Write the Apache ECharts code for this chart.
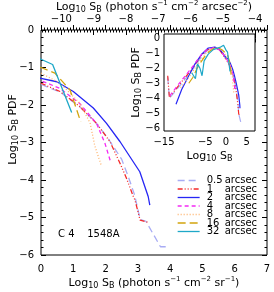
<!DOCTYPE html>
<html><head><meta charset="utf-8">
<script src="https://cdn.jsdelivr.net/npm/echarts@6/dist/echarts.min.js"></script>
<style>html,body{margin:0;padding:0;background:#fff}#c{width:274px;height:292px}</style>
</head><body><div id="c"></div>
<script>
// ---- data (log10 S_B, log10 PDF) ----
const names = ['0.5 arcsec','1 arcsec','2 arcsec','4 arcsec','8 arcsec','16 arcsec','32 arcsec'];
const s05 = [[-14.1,-2.6],[-13.7,-4.0],[-12,-3.45],[-10,-2.75],[-8,-2.05],[-6,-1.25],[-4.5,-0.8],[-3,-0.62],[-2,-0.65],[-1,-0.9],
  [0,-1.45],[0.6,-1.66],[1.2,-2.05],[1.7,-2.47],[2.1,-2.92],[2.5,-3.45],[2.7,-3.9],[2.9,-4.4],[3.07,-5.05],[3.25,-5.1],[3.7,-5.78],[3.9,-5.78]];
const s1 = [[-14.1,-2.5],[-13.7,-3.95],[-12,-3.35],[-10,-2.65],[-8,-1.95],[-6,-1.15],[-4.5,-0.75],[-2.8,-0.6],[-1.5,-0.8],[-0.7,-1.1],
  [0,-1.42],[0.59,-1.64],[1.2,-2.04],[1.72,-2.49],[2.14,-2.98],[2.45,-3.56],[2.65,-3.96],[2.86,-4.44],[2.91,-4.53],[3.07,-5.07],[3.32,-5.13]];
const s2 = [[-12.1,-4.41],[-10.7,-3.4],[-9.1,-2.55],[-7.5,-1.7],[-5.9,-1.06],[-4.3,-0.64],[-2.7,-0.57],[-1.3,-0.8],
  [0,-1.29],[0.49,-1.38],[1.0,-1.64],[1.62,-2.08],[2.03,-2.49],[2.45,-2.98],[3.06,-3.78],[3.32,-4.44],[3.37,-4.67]];
const s4 = [[-13.6,-3.85],[-12,-3.25],[-10,-2.55],[-8,-1.85],[-6,-1.1],[-4.5,-0.72],[-2.8,-0.6],[-1.5,-0.78],[-0.7,-1.05],
  [0,-1.35],[0.59,-1.56],[1.2,-1.96],[1.72,-2.49],[1.98,-3.02],[2.15,-3.5]];
const s8 = [[-11,-3.3],[-9,-2.6],[-7,-1.8],[-5,-1.05],[-3.5,-0.7],[-2,-0.6],[-1,-0.8],
  [0,-1.15],[0.59,-1.42],[1.2,-1.95],[1.52,-2.48],[1.67,-3.1],[1.87,-3.62]];
const s16 = [[-9,-3.0],[-8,-2.6],[-7,-2.0],[-6,-1.55],[-5,-1.15],[-4,-0.85],[-3,-0.68],[-2,-0.6],[-1,-0.75],
  [0,-1.0],[0.43,-1.15],[0.9,-1.6],[1.23,-2.45]];
const s32 = [[-8.3,-2.3],[-7.4,-2.7],[-6.9,-1.7],[-6.3,-2.0],[-5.8,-2.5],[-5.3,-1.5],[-4.3,-1.05],[-3.1,-0.75],[-1.5,-0.6],[-0.6,-0.45],
  [0,-0.78],[0.36,-0.92],[0.95,-2.2]];
const xTicks = [0,1,2,3,4,5,6,7];
const topTicks = [-10,-9,-8,-7,-6,-5,-4];
const yTicks = [0,-1,-2,-3,-4,-5,-6];
const insetXTicks = [-15,-10,-5,0,5];
const insetYTicks = [0,-1,-2,-3,-4,-5,-6];
const ionLabel = 'C 4    1548A';

const allData = [s05,s1,s2,s4,s8,s16,s32];
const colors = ['#a8acf4','#f42a2a','#2626f4','#f42af4','#ffb26a','#d2a40c','#1ea8c8'];
const dashes = [[7,4],[5,2,1,2,1,2,1,2],'solid',[4,3],[1,2],[8,4],'solid'];

const FONT = 'DejaVu Sans';
const minus = v => String(v).replace('-', '\u2212');
const rich = {
  sub:{fontSize:8,fontFamily:FONT,color:'#000',verticalAlign:'bottom',lineHeight:14},
  sup:{fontSize:7,fontFamily:FONT,color:'#000',verticalAlign:'top',lineHeight:14}
};
const nameStyle = {fontSize:11,fontFamily:FONT,color:'#000',lineHeight:14,rich};
const tickCol = {lineStyle:{color:'#000',width:1}};

const chart = echarts.init(document.getElementById('c'), null, {renderer:'canvas'});

const series = [];
names.forEach((n,i)=>{
  const ls = {color:colors[i],width:1.3,type:dashes[i]};
  series.push({name:n,type:'line',xAxisIndex:0,yAxisIndex:0,data:allData[i],showSymbol:false,symbol:'none',lineStyle:ls,itemStyle:{color:colors[i]},z:3});
  series.push({name:n,type:'line',xAxisIndex:2,yAxisIndex:2,data:allData[i],showSymbol:false,symbol:'none',lineStyle:{...ls,width:1.2},itemStyle:{color:colors[i]},z:6});
});

const legends = names.map((n,i)=>({
  data:[n], left:177, top:175.5+i*8.5, itemWidth:22, itemHeight:8, padding:0, orient:'vertical',
  itemStyle:{opacity:0}, lineStyle:{width:1.3},
  formatter: nm => '{n|'+nm.split(' ')[0]+'}{a|arcsec}',
  textStyle:{fontFamily:FONT,fontSize:10,color:'#000',lineHeight:9,
    rich:{n:{width:18,fontFamily:FONT,fontSize:10,padding:[0,0,0,2],lineHeight:9},a:{fontFamily:FONT,fontSize:10,lineHeight:9}}},
  selectedMode:false
}));

const gridBase = {outerBoundsMode:'none',containLabel:false,show:true,borderColor:'#000',borderWidth:1,backgroundColor:'#fff'};
const opt = {
  animation:false,
  backgroundColor:'#fff',
  title:{text:ionLabel,left:58,top:229,padding:0,textStyle:{fontFamily:FONT,fontSize:10,fontWeight:'normal',color:'#000'}},
  legend: legends,
  grid:[
    {...gridBase,left:41,right:7,top:30,bottom:37,z:0},
    {...gridBase,left:164,right:19,top:34,bottom:161,z:4}
  ],
  xAxis:[
    {gridIndex:0,type:'value',min:0,max:7,interval:1,position:'bottom',
     axisLine:{show:false},axisTick:{inside:true,length:5,...tickCol},minorTick:{show:true,splitNumber:10,length:2.5,...tickCol},
     splitLine:{show:false},minorSplitLine:{show:false},
     axisLabel:{fontFamily:FONT,fontSize:10,color:'#000',margin:9,customValues:xTicks,formatter:minus},
     name:'Log{sub|10} S{sub|B} (photon s{sup|\u22121} cm{sup|\u22122} sr{sup|\u22121})',nameLocation:'middle',nameGap:21,nameMoveOverlap:false,nameTextStyle:nameStyle},
    {gridIndex:0,type:'value',min:-10.63,max:-3.63,position:'top',
     axisLine:{show:false},axisTick:{inside:true,length:5,customValues:topTicks,...tickCol},minorTick:{show:true,splitNumber:10,length:2.5,...tickCol},
     splitLine:{show:false},
     axisLabel:{fontFamily:FONT,fontSize:10,color:'#000',margin:6,customValues:topTicks,formatter:minus},
     name:'Log{sub|10} S{sub|B} (photon s{sup|\u22121} cm{sup|\u22122} arcsec{sup|\u22122})',nameLocation:'middle',nameGap:16,nameMoveOverlap:false,nameTextStyle:nameStyle},
    {gridIndex:1,type:'value',min:-15,max:7,interval:5,position:'bottom',
     axisLine:{show:false},axisTick:{inside:true,length:4,...tickCol},minorTick:{show:true,splitNumber:5,length:2,...tickCol},
     splitLine:{show:false},
     axisLabel:{fontFamily:FONT,fontSize:10,color:'#000',margin:6,customValues:insetXTicks,formatter:minus,hideOverlap:false,showMinLabel:true,showMaxLabel:true},
     name:'Log{sub|10} S{sub|B}',nameLocation:'middle',nameGap:18,nameMoveOverlap:false,nameTextStyle:nameStyle},
    {gridIndex:1,type:'value',min:-15,max:7,interval:5,position:'top',
     axisLine:{show:false},axisTick:{inside:true,length:4,...tickCol},minorTick:{show:true,splitNumber:5,length:2,...tickCol},
     splitLine:{show:false},axisLabel:{show:false}}
  ],
  yAxis:[
    {gridIndex:0,type:'value',min:-6,max:0,interval:1,position:'left',
     axisLine:{show:false},axisTick:{inside:true,length:5,...tickCol},minorTick:{show:true,splitNumber:5,length:2.5,...tickCol},
     splitLine:{show:false},
     axisLabel:{fontFamily:FONT,fontSize:10,color:'#000',margin:7,customValues:yTicks,formatter:minus},
     name:'Log{sub|10} S{sub|B} PDF',nameLocation:'middle',nameGap:21,nameMoveOverlap:false,
     nameTextStyle:{...nameStyle,padding:[0,0,0,26]}},
    {gridIndex:0,type:'value',min:-6,max:0,interval:1,position:'right',
     axisLine:{show:false},axisTick:{inside:true,length:5,...tickCol},minorTick:{show:true,splitNumber:5,length:2.5,...tickCol},
     splitLine:{show:false},axisLabel:{show:false}},
    {gridIndex:1,type:'value',min:-6.2,max:0.3,position:'left',
     axisLine:{show:false},axisTick:{inside:true,length:4,customValues:insetYTicks,...tickCol},minorTick:{show:false},
     splitLine:{show:false},
     axisLabel:{fontFamily:FONT,fontSize:10,color:'#000',margin:4,customValues:insetYTicks,formatter:minus,hideOverlap:false},
     name:'Log{sub|10} S{sub|B} PDF',nameLocation:'middle',nameGap:21,nameMoveOverlap:false,nameTextStyle:nameStyle},
    {gridIndex:1,type:'value',min:-6.2,max:0.3,position:'right',
     axisLine:{show:false},axisTick:{inside:true,length:4,customValues:insetYTicks,...tickCol},
     splitLine:{show:false},axisLabel:{show:false}}
  ],
  series
};
chart.setOption(opt);
</script></body></html>
